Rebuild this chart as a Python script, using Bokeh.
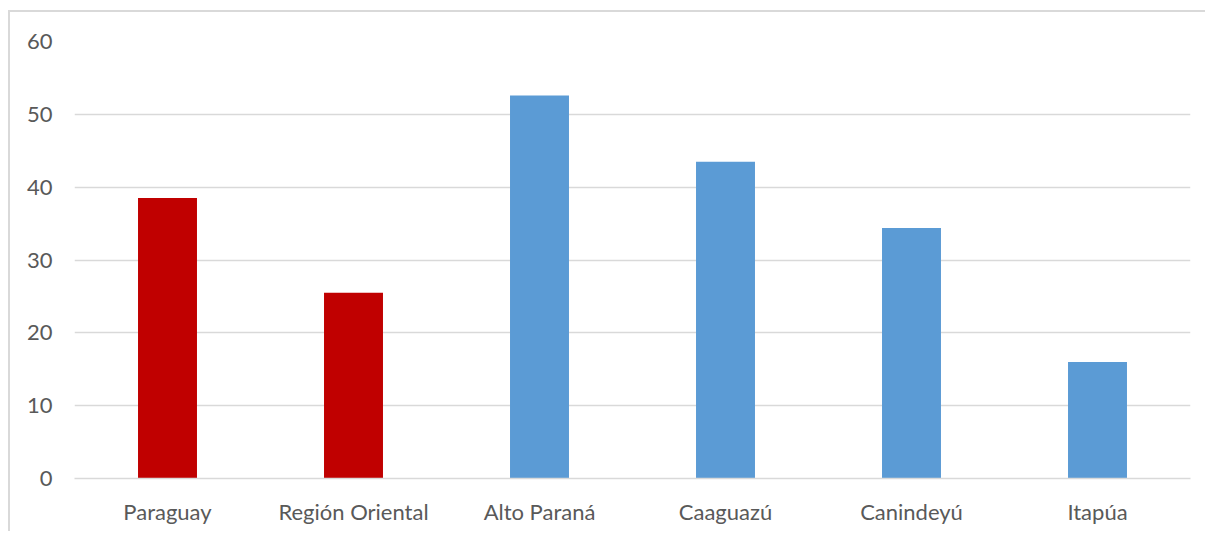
from bokeh.plotting import figure
from bokeh.models import ColumnDataSource, Range1d, FactorRange
from bokeh.embed import file_html
from bokeh.resources import INLINE

categories = ["Paraguay", "Región Oriental", "Alto Paraná", "Caaguazú", "Canindeyú", "Itapúa"]
values = [38.5, 25.5, 52.6, 43.5, 34.4, 16.0]
groups = ["nacional", "nacional", "departamento", "departamento", "departamento", "departamento"]

group_colors = {"nacional": "#C00000", "departamento": "#5B9BD5"}
colors = [group_colors[g] for g in groups]

source = ColumnDataSource(dict(cat=categories, val=values, color=colors))

FONT = "Lato"
TEXT = "#595959"
GRID = "#D9D9D9"

p = figure(
    x_range=FactorRange(*categories),
    y_range=Range1d(0, 60),
    width=1197, height=521,
    output_backend="svg", toolbar_location=None,
    min_border_left=64, min_border_right=17, min_border_top=29, min_border_bottom=55,
)
p.margin = (10, 0, 0, 8)
p.styles = {"border-top": "2px solid #D9D9D9", "border-left": "2px solid #D9D9D9"}

p.vbar(x="cat", top="val", width=0.317, color="color", line_color=None, source=source)

p.outline_line_color = None
p.background_fill_color = "white"
p.border_fill_color = "white"

p.xgrid.grid_line_color = None
p.ygrid.grid_line_color = GRID
p.ygrid.grid_line_width = 1.3
p.yaxis.ticker = [0, 10, 20, 30, 40, 50, 60]

for ax in (p.xaxis[0], p.yaxis[0]):
    ax.major_label_text_font = FONT
    ax.major_label_text_font_size = "22px"
    ax.major_label_text_color = TEXT
    ax.major_tick_line_color = None
    ax.minor_tick_line_color = None
    ax.major_tick_out = 0
    ax.major_tick_in = 0
    ax.minor_tick_out = 0

p.yaxis.axis_line_color = None
p.yaxis.major_label_standoff = 22
p.xaxis.axis_line_color = GRID
p.xaxis.axis_line_width = 1.3
p.xaxis.major_label_standoff = 19

open("out.html", "w").write(file_html(p, INLINE))
